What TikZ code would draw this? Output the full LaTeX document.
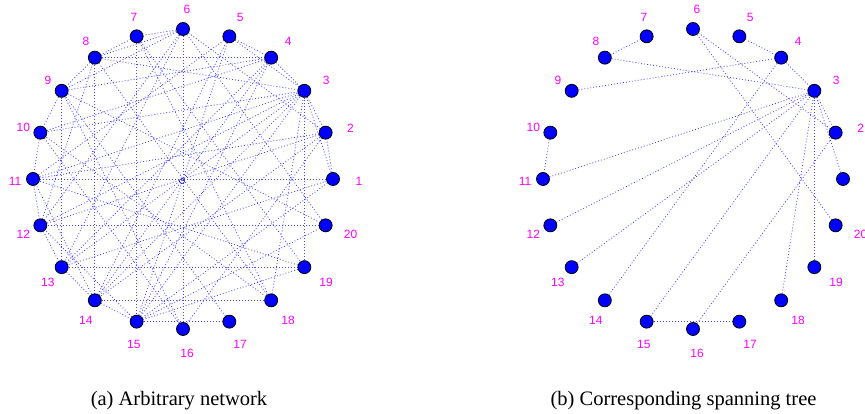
\documentclass[tikz,border=0pt]{standalone}
\usepackage{fontspec}
\setmainfont{Liberation Serif}
\newfontfamily\lblfont{Liberation Sans}
\usetikzlibrary{calc}
\pgfdeclarelayer{background}
\pgfsetlayers{background,main}
\definecolor{edgeblue}{RGB}{70,70,255}
\definecolor{lblmag}{RGB}{255,0,255}
\begin{document}
\begin{tikzpicture}[x=1pt,y=1pt,
  vtx/.style={circle,fill=blue,draw=black,line width=0.8pt,inner sep=0pt,minimum size=13pt},
  lbl/.style={font=\lblfont\fontsize{12}{14}\selectfont,text=lblmag,inner sep=0pt},
  edge/.style={draw=edgeblue,line width=0.8pt,dash pattern=on 0.9pt off 2.1pt},
  captxt/.style={font=\fontsize{20.5}{24}\selectfont,anchor=base,inner sep=0pt}]
\useasboundingbox (0,0) rectangle (865,414);
\clip (0,0) rectangle (865,414);
\foreach \k in {1,...,20}{
  \node[vtx] (L\k) at ($(183,235)+({(\k-1)*18}:150pt)$) {};
  \node[lbl] (LT\k) at ($(183,235)+({(\k-1)*18}:172pt)+(4,-2)$) {\k};
  \node[vtx] (R\k) at ($(693,235)+({(\k-1)*18}:150pt)$) {};
  \node[lbl] (RT\k) at ($(693,235)+({(\k-1)*18}:172pt)+(4,-2)$) {\k};
}
\node[circle,draw=blue!50!black,line width=0.5pt,inner sep=0pt,minimum size=5pt] (ctr) at (182,233) {};
\begin{pgfonlayer}{background}
\foreach \a/\b in {7/8,8/3,9/4,10/11,11/3,12/3,13/3,14/4,15/3,15/17,16/2,18/3,19/3,6/20,5/4,4/3,6/2,3/1,3/2}{
  \draw[edge] (R\a) -- (R\b);
  \draw[edge] (L\a) -- (L\b);
}
\foreach \a/\b in {8/4,8/14,6/16,1/11,8/9,9/10,11/12,12/13,13/14,14/15,1/2,6/7,
  6/13,6/12,6/9,6/8,7/19,7/18,5/14,5/15,5/11,4/13,4/15,3/10,3/14,2/12,2/14,2/11,
  1/15,1/13,20/12,20/15,19/11,19/13,19/15,18/10,18/14,17/9,16/9,16/10,13/9,12/8,
  10/4,9/20,8/18,7/15,5/3,14/11,15/12}{
  \draw[edge] (L\a) -- (L\b);
}
\end{pgfonlayer}
\node[captxt] (capa) at (179,8) {(a) Arbitrary network};
\node[captxt] (capb) at (683.5,8) {(b) Corresponding spanning tree};
\end{tikzpicture}
\end{document}
